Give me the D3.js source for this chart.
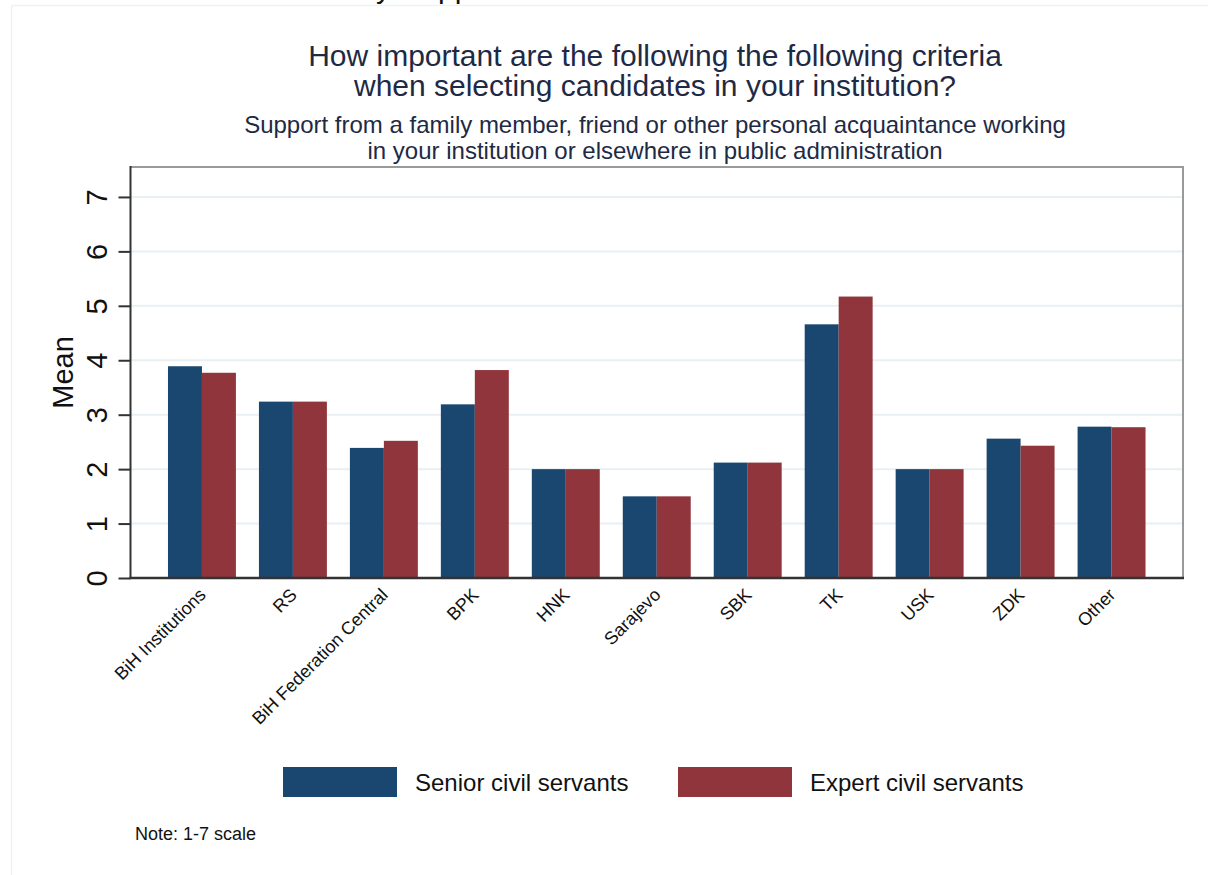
<!DOCTYPE html>
<html>
<head>
<meta charset="utf-8">
<script src="https://cdn.jsdelivr.net/npm/d3@7"></script>
<style>
  body { margin: 0; background: #fff; }
  svg { display: block; font-family: "Liberation Sans", Arial, sans-serif; }
</style>
</head>
<body>
<svg id="chart" width="1208" height="875"></svg>
<script>
// data
var categories = ["BiH Institutions", "RS", "BiH Federation Central", "BPK", "HNK",
  "Sarajevo", "SBK", "TK", "USK", "ZDK", "Other"]
var senior = [3.89, 3.24, 2.39, 3.19, 2.0, 1.5, 2.12, 4.66, 2.0, 2.56, 2.78]
var expert = [3.77, 3.24, 2.52, 3.82, 2.0, 1.5, 2.12, 5.17, 2.0, 2.43, 2.77]
var yTicks = [0, 1, 2, 3, 4, 5, 6, 7]
var seriesNames = ["Senior civil servants", "Expert civil servants"]
var colors = ["#1a476f", "#90353b"]

var svg = d3.select("#chart")

var plotLeft = 130.5, plotRight = 1183, plotTop = 167, plotBottom = 578

// faint outer frame of the exported graph
svg.append("line").attr("x1", 11).attr("x2", 1208).attr("y1", 5.5).attr("y2", 5.5)
  .style("stroke", "#f0f1f1").style("stroke-width", 1.5)
svg.append("line").attr("x1", 11.5).attr("x2", 11.5).attr("y1", 5).attr("y2", 875)
  .style("stroke", "#f0f1f1").style("stroke-width", 1.5)

// cut-off text from the page above
svg.append("text").attr("x", 376).attr("y", -2).style("font-size", "30px").style("fill", "#111").text("y")
svg.append("text").attr("x", 438).attr("y", -2).style("font-size", "30px").style("fill", "#111").text("pp")

var x0 = d3.scaleBand().domain(categories).range([plotLeft, plotRight])
  .paddingInner(0.253).paddingOuter(0.412)
var x1 = d3.scaleBand().domain([0, 1]).range([0, x0.bandwidth()])
var y = d3.scaleLinear().domain([0, 7.55]).range([plotBottom, plotTop])

// gridlines
svg.append("g").selectAll("line")
  .data(yTicks.filter(function(d){ return d > 0 }))
  .enter().append("line")
    .attr("x1", plotLeft).attr("x2", plotRight)
    .attr("y1", function(d){ return y(d) }).attr("y2", function(d){ return y(d) })
    .style("stroke", "#e9f0f3").style("stroke-width", 2)

// plot region border (top, right)
svg.append("path")
  .attr("d", "M" + plotLeft + "," + plotTop + "H" + plotRight + "V" + plotBottom)
  .style("fill", "none").style("stroke", "#9a9a9a").style("stroke-width", 2)

// bars
var groups = svg.append("g").selectAll("g")
  .data(categories)
  .enter().append("g")
    .attr("transform", function(d){ return "translate(" + x0(d) + ",0)" })

groups.selectAll("rect")
  .data(function(d, i){ return [senior[i], expert[i]] })
  .enter().append("rect")
    .attr("x", function(d, j){ return x1(j) })
    .attr("y", function(d){ return y(d) })
    .attr("width", x1.bandwidth())
    .attr("height", function(d){ return plotBottom - y(d) })
    .style("fill", function(d, j){ return colors[j] })

// y axis
var yAxis = svg.append("g")
  .attr("transform", "translate(" + plotLeft + ",0)")
  .call(d3.axisLeft(y).tickValues(yTicks).tickSize(12).tickFormat(d3.format("d")))
yAxis.select(".domain").remove()
yAxis.selectAll(".tick line").style("stroke", "#333").style("stroke-width", 2)
yAxis.selectAll(".tick text").remove()
yAxis.selectAll(".tick").append("text")
  .attr("transform", "translate(-24,0) rotate(-90)")
  .attr("text-anchor", "middle")
  .style("font-size", "29px").style("fill", "#111")
  .text(function(d){ return d })
svg.append("line").attr("x1", plotLeft).attr("x2", plotLeft).attr("y1", plotTop - 1).attr("y2", plotBottom + 1)
  .style("stroke", "#333").style("stroke-width", 2)

// x axis
svg.append("line").attr("x1", plotLeft - 1).attr("x2", plotRight + 1).attr("y1", plotBottom).attr("y2", plotBottom)
  .style("stroke", "#333").style("stroke-width", 2.5)
svg.append("g").selectAll("text")
  .data(categories)
  .enter().append("text")
    .attr("transform", function(d){
      return "translate(" + (x0(d) + x0.bandwidth() / 2 + 5) + "," + (plotBottom + 18) + ") rotate(-45)"
    })
    .attr("text-anchor", "end")
    .style("font-size", "18px").style("fill", "#111")
    .text(function(d){ return d })

// axis title
svg.append("text")
  .attr("transform", "translate(73," + ((plotTop + plotBottom) / 2) + ") rotate(-90)")
  .attr("text-anchor", "middle")
  .style("font-size", "29px").style("fill", "#111")
  .text("Mean")

// titles
var cx = 655
svg.append("text").attr("x", cx).attr("y", 66).attr("text-anchor", "middle")
  .style("font-size", "30px").style("fill", "#1e2a45")
  .text("How important are the following the following criteria")
svg.append("text").attr("x", cx).attr("y", 96).attr("text-anchor", "middle")
  .style("font-size", "30px").style("fill", "#1e2a45")
  .text("when selecting candidates in your institution?")
svg.append("text").attr("x", cx).attr("y", 132.5).attr("text-anchor", "middle")
  .style("font-size", "24px").style("fill", "#1e2a45")
  .text("Support from a family member, friend or other personal acquaintance working")
svg.append("text").attr("x", cx).attr("y", 158.5).attr("text-anchor", "middle")
  .style("font-size", "24px").style("fill", "#1e2a45")
  .text("in your institution or elsewhere in public administration")

// legend
var legendX = [283, 678]
var legend = svg.append("g").selectAll("g")
  .data(seriesNames)
  .enter().append("g")
    .attr("transform", function(d, i){ return "translate(" + legendX[i] + ",767)" })
legend.append("rect")
  .attr("width", 114).attr("height", 30)
  .style("fill", function(d, i){ return colors[i] })
legend.append("text")
  .attr("x", 132).attr("y", 24)
  .style("font-size", "24px").style("fill", "#111")
  .text(function(d){ return d })

// note
svg.append("text").attr("x", 135).attr("y", 840)
  .style("font-size", "18px").style("fill", "#111")
  .text("Note: 1-7 scale")
</script>
</body>
</html>
